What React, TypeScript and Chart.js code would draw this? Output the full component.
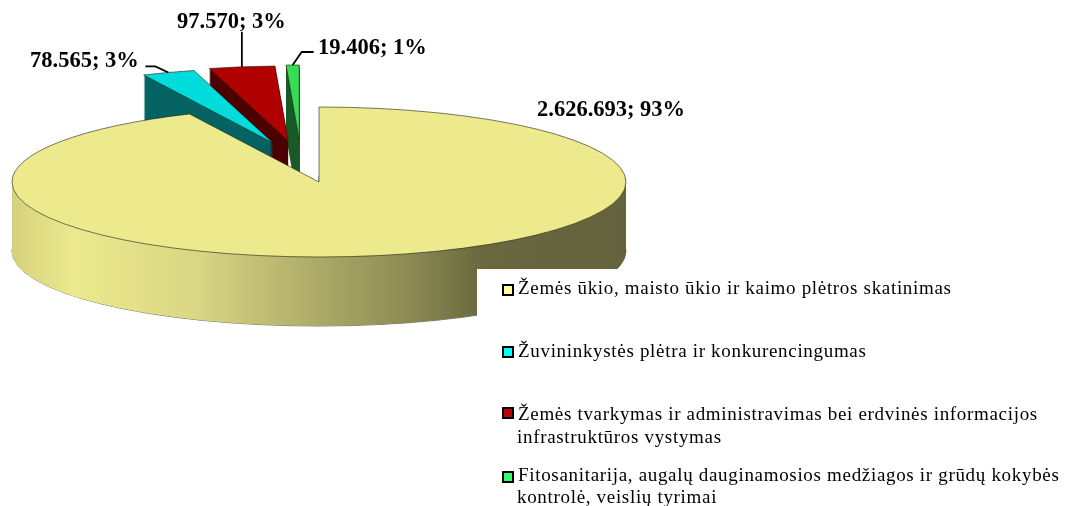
import React, { useEffect, useRef } from "react";
import { Chart, registerables } from "chart.js";

Chart.register(...registerables);

const categories = [
  ["Žemės ūkio, maisto ūkio ir kaimo plėtros skatinimas"],
  ["Žuvininkystės plėtra ir konkurencingumas"],
  ["Žemės tvarkymas ir administravimas bei erdvinės informacijos", "infrastruktūros vystymas"],
  ["Fitosanitarija, augalų dauginamosios medžiagos ir grūdų kokybės", "kontrolė, veislių tyrimai"],
];
const values = [2626693, 78565, 97570, 19406];
const topColors = ["#ECEA8D", "#00DCDC", "#B00000", "#35DC55"];
const wallColors = ["#ECEA8D", "#056363", "#4C0000", "#1B5C2A"];
const swatchColors = ["#FFFF99", "#00FFFF", "#C00000", "#33FF66"];
const explode = [0, 170, 170, 172];
const perspectiveShift = [0, 12, -5, -16];

const squash = 75 / 307;
const depth = 69;
const drawOrder = [3, 2, 1, 0];
const LABEL_FONT = "bold 22.5px 'Liberation Serif'";
const LEGEND_FONT = "19px 'Liberation Serif'";

const labelPlacement = [
  { x: 537, y: 116, leader: null },
  { x: 30, y: 67, leader: [[-13, -6], [-23, -6]] },
  { x: 177, y: 28, leader: [[0, -35]] },
  { x: 318, y: 54, leader: [[9, -13], [21, -13]] },
];
const legendRows = [
  { swatchY: 285, baselines: [294] },
  { swatchY: 347, baselines: [357] },
  { swatchY: 408, baselines: [420, 443] },
  { swatchY: 472, baselines: [481, 503] },
];

const total = values.reduce((a, b) => a + b, 0);
const labelText = (v: number) =>
  `${String(v).replace(/\B(?=(\d{3})+$)/g, ".")}; ${Math.round((v / total) * 100)}%`;

function project(ctx: CanvasRenderingContext2D, cy: number, dx: number, dy: number) {
  ctx.translate(dx, dy + cy);
  ctx.scale(1, squash);
  ctx.translate(0, -cy);
}

function slicePath(ctx: CanvasRenderingContext2D, el: any) {
  const mid = (el.startAngle + el.endAngle) / 2;
  const ox = el.x + Math.cos(mid) * el.options.offset;
  const oy = el.y + Math.sin(mid) * el.options.offset;
  ctx.beginPath();
  ctx.moveTo(ox, oy);
  ctx.arc(ox, oy, el.outerRadius, el.startAngle, el.endAngle);
  ctx.closePath();
}

const pie3d = {
  id: "pie3d",
  beforeDatasetDraw(chart: any) {
    const ctx: CanvasRenderingContext2D = chart.ctx;
    const meta = chart.getDatasetMeta(0);
    const base = meta.data[0];
    const left = base.x - base.outerRadius;
    const w = base.outerRadius * 2;
    const wallGrad = ctx.createLinearGradient(left, 0, left + w, 0);
    wallGrad.addColorStop(0, "#D4D17C");
    wallGrad.addColorStop(0.1, "#ECEA8D");
    wallGrad.addColorStop(0.3, "#D9D684");
    wallGrad.addColorStop(0.5, "#ACAA67");
    wallGrad.addColorStop(0.65, "#8B8A53");
    wallGrad.addColorStop(0.77, "#68673E");
    wallGrad.addColorStop(1, "#64633D");

    drawOrder.forEach((i) => {
      const el = meta.data[i];
      const sx = perspectiveShift[i];
      ctx.save();
      ctx.fillStyle = i === 0 ? wallGrad : wallColors[i];
      ctx.strokeStyle = "rgba(30,30,20,0.85)";
      ctx.lineWidth = 0.7;
      for (let d = depth; d >= 1; d--) {
        ctx.save();
        project(ctx, el.y, sx, d);
        slicePath(ctx, el);
        ctx.restore();
        if (d === depth) ctx.stroke();
        ctx.fill();
      }
      // top face
      ctx.save();
      project(ctx, el.y, sx, 0);
      slicePath(ctx, el);
      ctx.restore();
      ctx.fillStyle = topColors[i];
      ctx.fill();
      ctx.stroke();
      ctx.restore();
    });
    return false;
  },
  afterDatasetsDraw(chart: any) {
    const ctx: CanvasRenderingContext2D = chart.ctx;
    const meta = chart.getDatasetMeta(0);
    // white legend panel that sits over the pie
    ctx.save();
    ctx.fillStyle = "#FFFFFF";
    ctx.fillRect(477, 269, 598, 237);

    // data labels and leaders
    ctx.fillStyle = "#000000";
    ctx.textBaseline = "alphabetic";
    ctx.font = LABEL_FONT;
    values.forEach((v, i) => {
      const p = labelPlacement[i];
      ctx.fillText(labelText(v), p.x, p.y);
      if (p.leader) {
        const el = meta.data[i];
        const mid = (el.startAngle + el.endAngle) / 2;
        const off = el.options.offset;
        const ax = el.x + Math.cos(mid) * (off + el.outerRadius) + perspectiveShift[i];
        const ay = el.y + Math.sin(mid) * (off + el.outerRadius) * squash;
        ctx.beginPath();
        ctx.moveTo(ax, ay);
        p.leader.forEach(([dx, dy]) => ctx.lineTo(ax + dx, ay + dy));
        ctx.strokeStyle = "#000000";
        ctx.lineWidth = 1.8;
        ctx.stroke();
      }
    });

    // legend
    ctx.font = LEGEND_FONT;
    (ctx as any).letterSpacing = "0.68px";
    categories.forEach((lines, i) => {
      const r = legendRows[i];
      ctx.fillStyle = swatchColors[i];
      ctx.fillRect(503, r.swatchY, 10, 10);
      ctx.strokeStyle = "#000000";
      ctx.lineWidth = 2;
      ctx.strokeRect(503, r.swatchY, 10, 10);
      ctx.fillStyle = "#000000";
      lines.forEach((t, j) => ctx.fillText(t, j === 0 ? 518 : 517, r.baselines[j]));
    });
    ctx.restore();
  },
};

export default function App() {
  const ref = useRef<HTMLCanvasElement>(null);
  useEffect(() => {
    const chart = new Chart(ref.current!, {
      type: "pie",
      data: {
        labels: categories.map((c) => c.join(" ")),
        datasets: [
          {
            data: values,
            backgroundColor: topColors,
            offset: explode,
            borderWidth: 0,
            clip: false,
          } as any,
        ],
      },
      options: {
        animation: false,
        responsive: false,
        radius: 307,
        layout: { padding: { left: 0, top: 0, right: 437, bottom: 142 } },
        plugins: { legend: { display: false }, tooltip: { enabled: false } },
      } as any,
      plugins: [pie3d as any],
    });
    return () => chart.destroy();
  }, []);
  return (
    <canvas
      ref={ref}
      width={1075}
      height={506}
      style={{ position: "fixed", left: 0, top: 0, width: 1075, height: 506, display: "block", background: "#fff" }}
    />
  );
}
